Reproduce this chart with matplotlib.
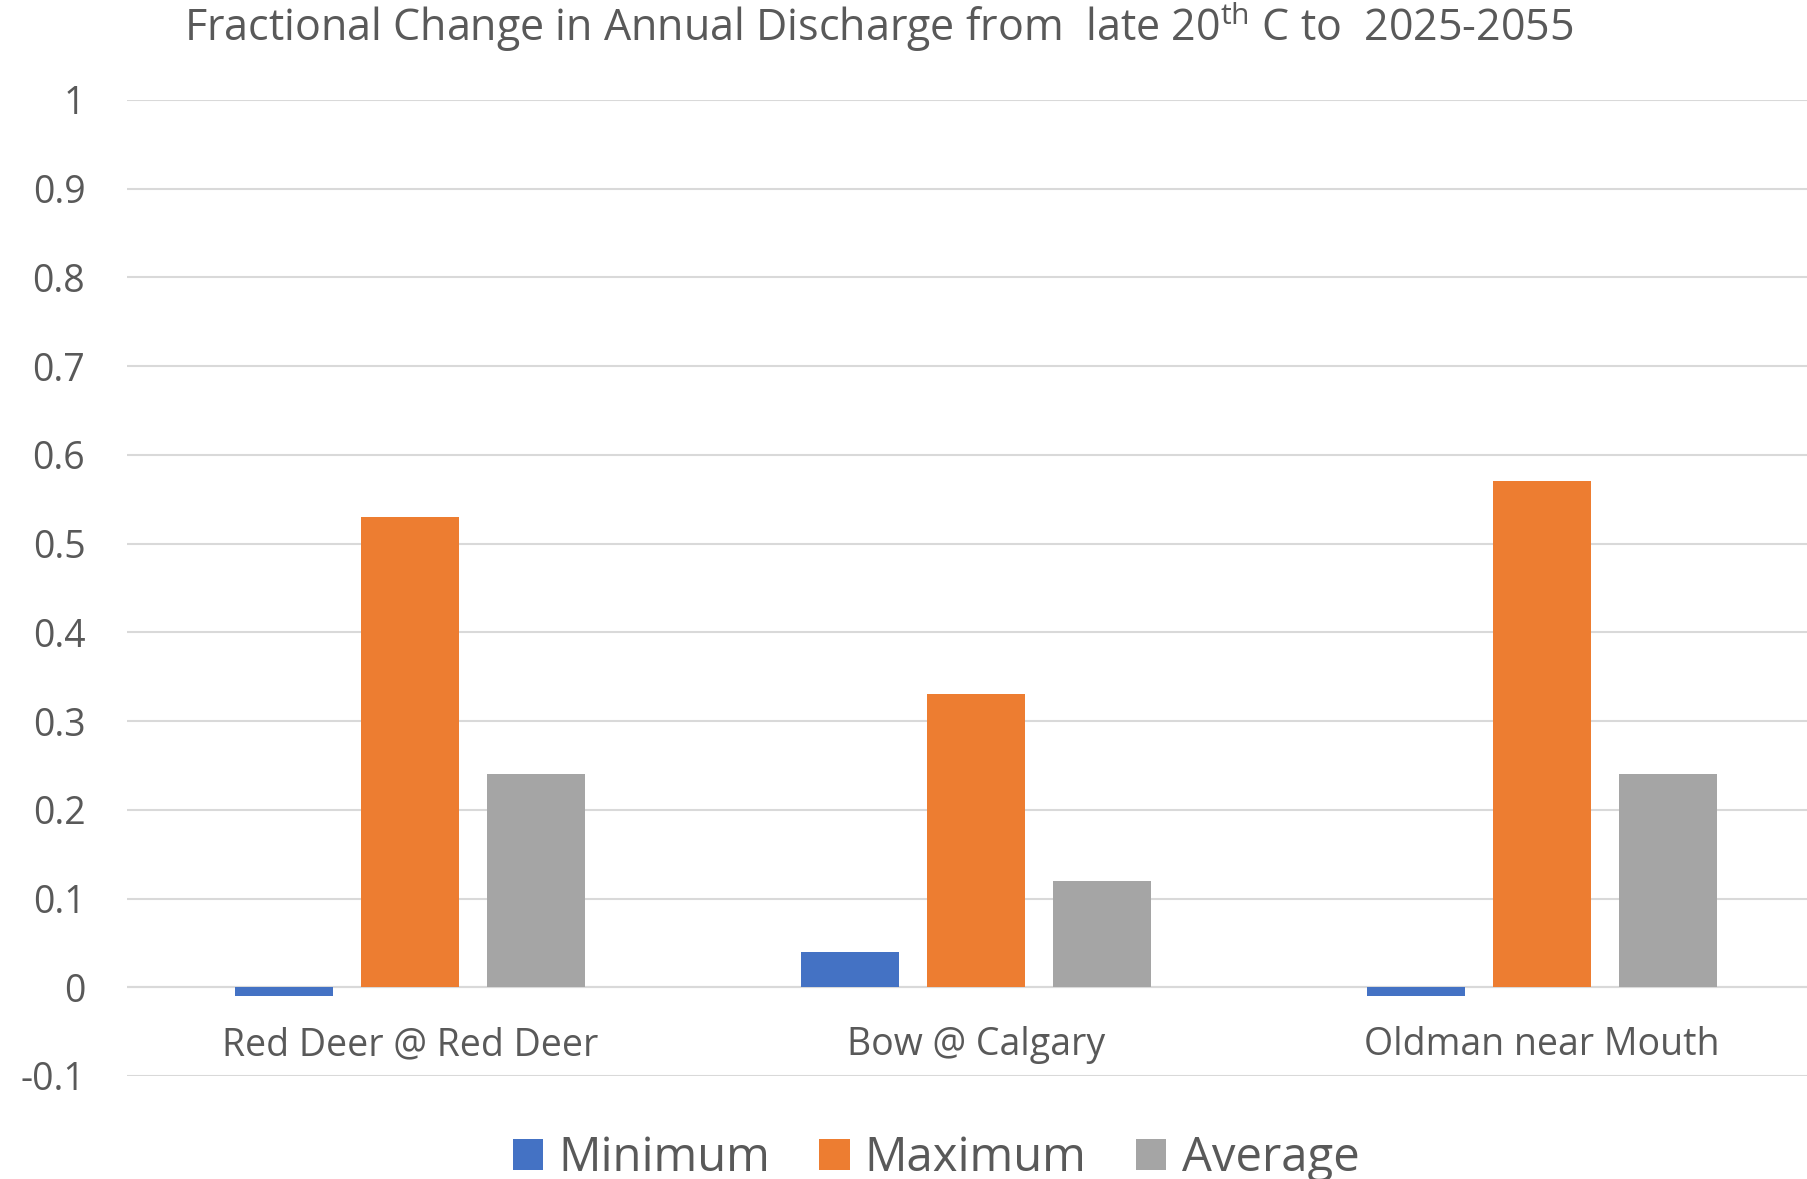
import matplotlib
matplotlib.use("Agg")
import matplotlib.pyplot as plt
import numpy as np

# data
sites = ["Red Deer @ Red Deer", "Bow @ Calgary", "Oldman near Mouth"]
minimum = [-0.01, 0.04, -0.01]
maximum = [0.53, 0.33, 0.57]
average = [0.24, 0.12, 0.24]
series_names = ["Minimum", "Maximum", "Average"]
colors = ["#4472C4", "#ED7D31", "#A5A5A5"]
yticks = [-0.1, 0, 0.1, 0.2, 0.3, 0.4, 0.5, 0.6, 0.7, 0.8, 0.9, 1]
ytick_labels = ["-0.1", "0", "0.1", "0.2", "0.3", "0.4", "0.5", "0.6", "0.7", "0.8", "0.9", "1"]

plt.rcParams["font.family"] = ["Open Sans", "DejaVu Sans"]
plt.rcParams["mathtext.fontset"] = "custom"
plt.rcParams["mathtext.rm"] = "Open Sans"
text_color = "#595959"

fig = plt.figure(figsize=(18.08, 11.79), dpi=100)
# axes runs past the right edge, like the cropped original
ax = fig.add_axes([0.0702, 0.0874, 0.9392, 0.8278])

x = np.arange(len(sites))
width = 0.173
offsets = [-0.222, 0, 0.222]
for vals, name, col, off in zip([minimum, maximum, average], series_names, colors, offsets):
    ax.bar(x + off, vals, width, color=col, label=name, zorder=3)

ax.set_xlim(-0.5, 2.5)
ax.set_ylim(-0.1, 1)
ax.set_yticks(yticks)
ax.set_yticklabels(ytick_labels)
ax.set_xticks([])
ax.grid(axis="y", color="#D9D9D9", linewidth=1.5, zorder=0)
ax.axhline(0, color="#D9D9D9", linewidth=1.5, zorder=2)
for s in ax.spines.values():
    s.set_visible(False)
ax.tick_params(axis="y", length=0, pad=30, labelsize=27, labelcolor=text_color)

# category labels sit just under the zero line
for i, name in enumerate(sites):
    ax.annotate(name, (i, 0), xytext=(0, -49), textcoords="offset points",
                ha="center", va="baseline", fontsize=27, color=text_color)

fig.text(879 / 1808, 1 - 27 / 1179,
         r"Fractional Change in Annual Discharge from  late 20$^{\mathrm{th}}$ C to  2025-2055",
         ha="center", va="center", fontsize=31, color=text_color)

fig.legend(loc="center", bbox_to_anchor=(936 / 1808, 1 - 1158 / 1179), ncol=3,
           frameon=False, fontsize=34, labelcolor=text_color,
           handlelength=0.64, handleheight=0.64, handletextpad=0.32,
           columnspacing=1.05, borderaxespad=0, borderpad=0)

fig.savefig("out.png", dpi=100)
